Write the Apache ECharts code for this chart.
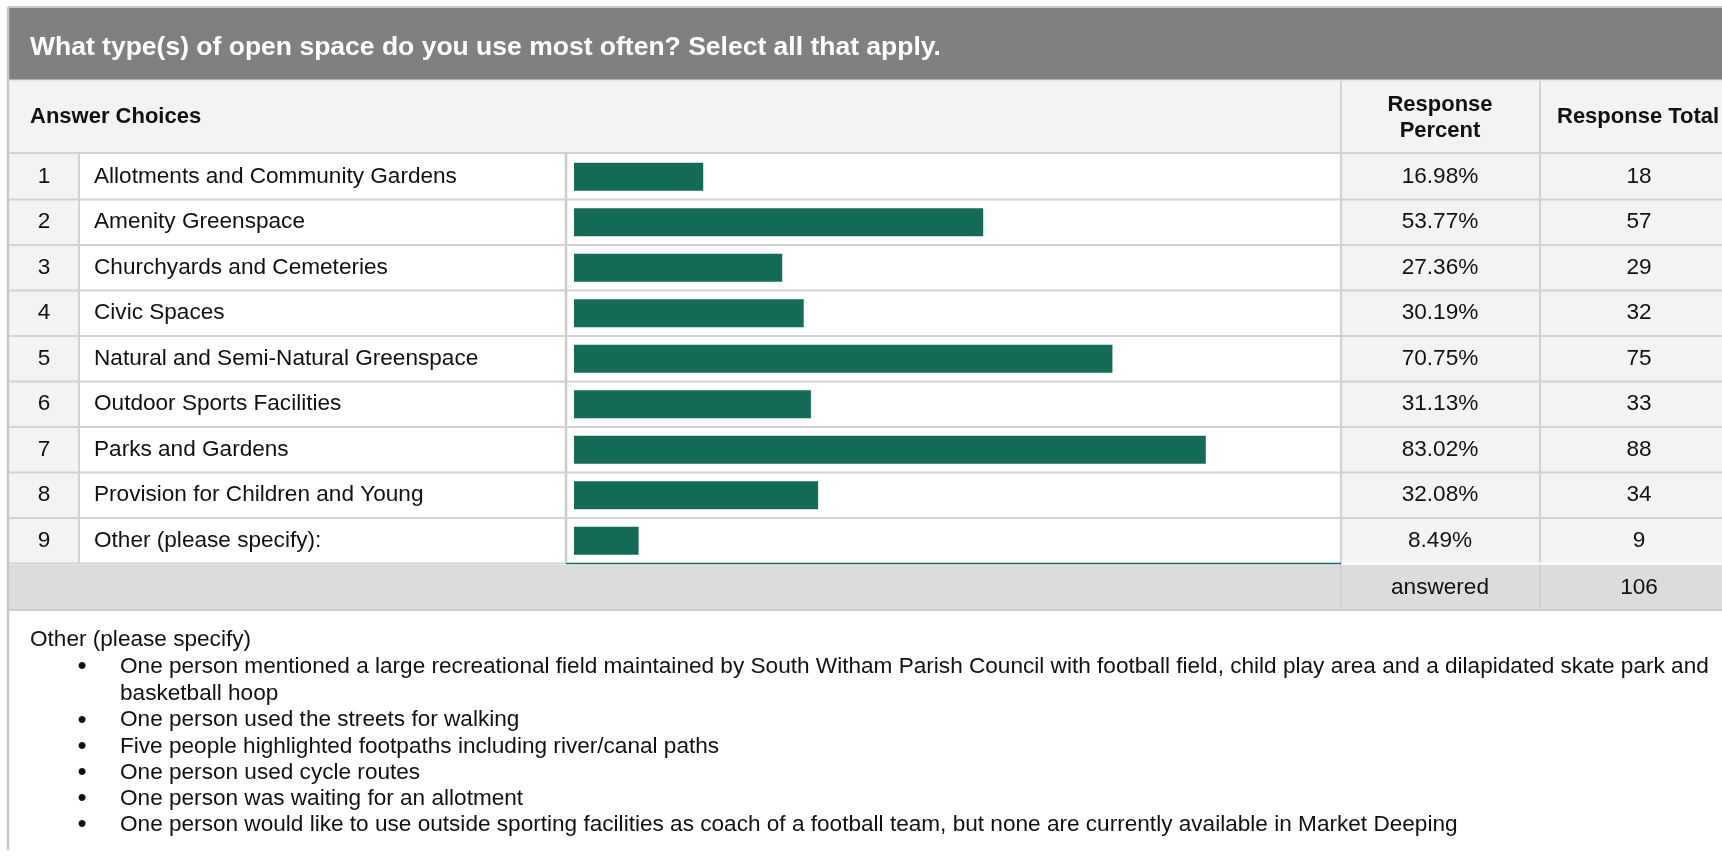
<!DOCTYPE html>
<html>
<head>
<meta charset="utf-8">
<title>Open space use</title>
<script src="https://cdn.jsdelivr.net/npm/echarts@6/dist/echarts.min.js"></script>
<style>
  html, body { margin: 0; padding: 0; background: #fff; }
  #chart { width: 1722px; height: 856px; }
</style>
</head>
<body>
<div id="chart"></div>
<script>
// survey data
const questionTitle = 'What type(s) of open space do you use most often? Select all that apply.';
const choiceNumbers = ['1', '2', '3', '4', '5', '6', '7', '8', '9'];
const answerChoices = [
  'Allotments and Community Gardens',
  'Amenity Greenspace',
  'Churchyards and Cemeteries',
  'Civic Spaces',
  'Natural and Semi-Natural Greenspace',
  'Outdoor Sports Facilities',
  'Parks and Gardens',
  'Provision for Children and Young',
  'Other (please specify):'
];
const responsePercent = [16.98, 53.77, 27.36, 30.19, 70.75, 31.13, 83.02, 32.08, 8.49];
const responseTotal = [18, 57, 29, 32, 75, 33, 88, 34, 9];
const answeredTotal = 106;
const otherHeading = 'Other (please specify)';
const otherNotes = [
  'One person mentioned a large recreational field maintained by South Witham Parish Council with football field, child play area and a dilapidated skate park and\nbasketball hoop',
  'One person used the streets for walking',
  'Five people highlighted footpaths including river/canal paths',
  'One person used cycle routes',
  'One person was waiting for an allotment',
  'One person would like to use outside sporting facilities as coach of a football team, but none are currently available in Market Deeping'
];

// layout
const W = 1722;
const FONT = '"Liberation Sans", Arial, sans-serif';
const FS = 22.6;
const ROW_TOP = 154;
const ROW_H = 45.5;
const ROWS_BOTTOM = ROW_TOP + ROW_H * answerChoices.length;
const FOOT_TOP = ROWS_BOTTOM + 1.5;
const FOOT_H = 45;
const COL_NUM = 79, COL_BAR = 566, COL_PCT = 1341, COL_TOT = 1540;
const BAR_LEFT = 574, BAR_RIGHT = 1335;
const LINE = '#d2d2d2';
const CELL = '#f3f3f1';
const BAR = '#136b58';

const chart = echarts.init(document.getElementById('chart'));

const rect = (x, y, w, h, fill) => ({
  type: 'rect', z: 0, silent: true,
  shape: { x: x, y: y, width: w, height: h },
  style: { fill: fill }
});
const line = (x1, y1, x2, y2, color, width) => ({
  type: 'line', z: 1, silent: true,
  shape: { x1: x1, y1: y1, x2: x2, y2: y2 },
  style: { stroke: color || LINE, lineWidth: width || 2 }
});
const text = (x, y, str, opts) => ({
  type: 'text', z: 6, silent: true, x: x, y: y,
  style: Object.assign({
    text: str, fill: '#111', font: FS + 'px ' + FONT,
    textAlign: 'left', textVerticalAlign: 'middle'
  }, opts || {})
});

const graphics = [
  rect(9, 8, W - 9, 72, '#808080'),
  rect(9, 81, W - 9, 72, CELL),
  rect(9, ROW_TOP, COL_NUM - 9, ROWS_BOTTOM - ROW_TOP, CELL),
  rect(COL_PCT, ROW_TOP, W - COL_PCT, ROWS_BOTTOM - ROW_TOP, CELL),
  rect(9, FOOT_TOP, W - 9, FOOT_H, '#dcdcdc'),
  // borders
  line(8, 7, W, 7, '#c8c8c8'),
  line(8, 7, 8, 850, '#c8c8c8', 2.5),
  line(9, 80.5, W, 80.5, '#e6e6e6'),
  line(9, 153, W, 153),
  line(COL_PCT, 81, COL_PCT, FOOT_TOP + FOOT_H),
  line(COL_TOT, 81, COL_TOT, FOOT_TOP + FOOT_H),
  line(COL_NUM, 153, COL_NUM, ROWS_BOTTOM),
  line(COL_BAR, 153, COL_BAR, ROWS_BOTTOM, '#cccccc', 2.5),
  line(9, FOOT_TOP + FOOT_H, W, FOOT_TOP + FOOT_H, '#cccccc'),
  line(COL_BAR, ROWS_BOTTOM, COL_PCT, ROWS_BOTTOM, BAR, 1.5),
  line(9, ROWS_BOTTOM, COL_BAR, ROWS_BOTTOM),
  line(COL_PCT, ROWS_BOTTOM, W, ROWS_BOTTOM, '#ffffff'),
  // titles
  text(30, 48, questionTitle, { fill: '#ffffff', font: 'bold 26.5px ' + FONT }),
  text(30, 117, 'Answer Choices', { font: 'bold 22px ' + FONT }),
  text(1440, 118, 'Response\nPercent', { font: 'bold 22px ' + FONT, textAlign: 'center', lineHeight: 26 }),
  text(1557, 117, 'Response Total', { font: 'bold 22px ' + FONT }),
  text(1440, FOOT_TOP + FOOT_H / 2, 'answered', { textAlign: 'center' }),
  text(1639, FOOT_TOP + FOOT_H / 2, String(answeredTotal), { textAlign: 'center' }),
  text(30, 640, otherHeading)
];

// row separators
for (let i = 1; i < answerChoices.length; i++) {
  graphics.push(line(9, ROW_TOP + i * ROW_H, W, ROW_TOP + i * ROW_H));
}

// notes list
let noteY = 666;
otherNotes.forEach(note => {
  graphics.push(text(82, noteY + 1, '\u2022', { textAlign: 'center', font: '26px ' + FONT }));
  graphics.push(text(120, noteY - 13, note, { textVerticalAlign: 'top', lineHeight: 27.5 }));
  noteY += 26.2 * note.split('\n').length + (note.indexOf('\n') >= 0 ? 1 : 0);
});

// category axes carry the per-row text columns
const labelAxis = (data, position, align, margin) => ({
  type: 'category',
  data: data,
  inverse: true,
  position: position,
  z: 6,
  axisLine: { show: false },
  axisTick: { show: false },
  splitLine: { show: false },
  axisLabel: {
    interval: 0,
    align: align,
    margin: margin,
    color: '#111',
    fontFamily: FONT,
    fontSize: FS
  }
});

const option = {
  backgroundColor: '#ffffff',
  animation: false,
  grid: {
    left: BAR_LEFT,
    right: W - BAR_RIGHT,
    top: ROW_TOP,
    height: ROWS_BOTTOM - ROW_TOP
  },
  xAxis: { type: 'value', min: 0, max: 100, show: false },
  yAxis: [
    labelAxis(answerChoices, 'left', 'left', BAR_LEFT - 94),
    labelAxis(choiceNumbers, 'left', 'center', BAR_LEFT - 44),
    labelAxis(responsePercent.map(v => v.toFixed(2) + '%'), 'right', 'center', 1440 - BAR_RIGHT),
    labelAxis(responseTotal.map(String), 'right', 'center', 1639 - BAR_RIGHT)
  ],
  graphic: graphics,
  series: [
    {
      type: 'bar',
      data: responsePercent,
      yAxisIndex: 0,
      barWidth: 28,
      z: 3,
      silent: true,
      itemStyle: { color: BAR }
    }
  ]
};

chart.setOption(option);
</script>
</body>
</html>
